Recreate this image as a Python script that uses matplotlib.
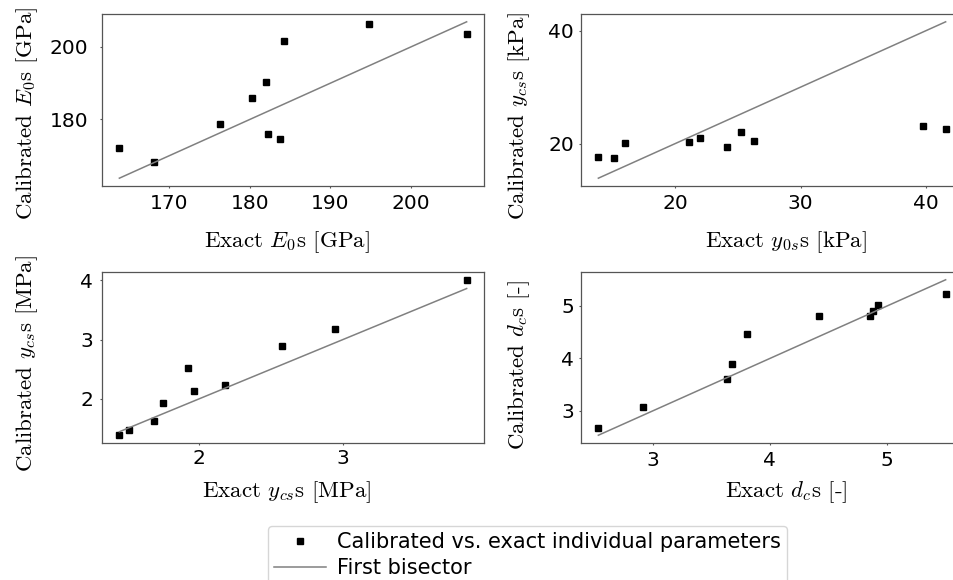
import numpy as np
import matplotlib
matplotlib.use("Agg")
import matplotlib.pyplot as plt

plt.rcParams['mathtext.fontset'] = 'cm'

# exact vs calibrated values
E0_exact = [163.8, 168.1, 176.3, 180.2, 182.0, 182.3, 183.7, 184.2, 194.8, 206.9]
E0_calib = [172.2, 168.3, 178.8, 186.0, 190.2, 176.0, 174.7, 201.5, 206.3, 203.5]

y0s_exact = [13.87, 15.12, 16.0, 21.09, 21.99, 24.14, 25.28, 26.29, 39.79, 41.57]
y0s_calib = [17.7, 17.46, 20.06, 20.24, 21.0, 19.47, 22.0, 20.47, 23.19, 22.54]

ycs_exact = [1.447, 1.512, 1.69, 1.748, 1.926, 1.965, 2.18, 2.581, 2.947, 3.863]
ycs_calib = [1.388, 1.472, 1.629, 1.933, 2.517, 2.129, 2.242, 2.888, 3.174, 4.011]

dc_exact = [2.538, 2.921, 3.633, 3.678, 3.803, 4.421, 4.853, 4.881, 4.921, 5.499]
dc_calib = [2.682, 3.076, 3.618, 3.898, 4.471, 4.803, 4.809, 4.904, 5.025, 5.229]

panels = [
    (E0_exact, E0_calib, r"Exact $E_0$s [GPa]", r"Calibrated $E_0$s [GPa]", [170, 180, 190, 200], [180, 200]),
    (y0s_exact, y0s_calib, r"Exact $y_{0s}$s [kPa]", r"Calibrated $y_{cs}$s [kPa]", [20, 30, 40], [20, 40]),
    (ycs_exact, ycs_calib, r"Exact $y_{cs}$s [MPa]", r"Calibrated $y_{cs}$s [MPa]", [2, 3], [2, 3, 4]),
    (dc_exact, dc_calib, r"Exact $d_c$s [-]", r"Calibrated $d_c$s [-]", [3, 4, 5], [3, 4, 5]),
]

W, H = 954, 580
fig = plt.figure(figsize=(W / 100, H / 100), dpi=100)
# (left, top, bottom) in pixels, tick pads, label coords
boxes = [(102, 14, 186), (581, 14, 186), (102, 272, 443), (581, 272, 443)]
xpads = [4, 4, 3, 4]
ypads = [8.5, 3.5, 5, 3.5]
ylab_xy = [(-0.162, 0.42), (-0.128, 0.41), (-0.162, 0.465), (-0.128, 0.455)]
xlab_xy = [(0.484, -0.25), (0.537, -0.25), (0.484, -0.21), (0.537, -0.21)]
ax_w = 382

for i, (xe, yc, xl, yl, xt, yt) in enumerate(panels):
    left, top, bot = boxes[i]
    ax = fig.add_axes([left / W, 1 - bot / H, ax_w / W, (bot - top) / H])
    ax.plot(xe, yc, 's', color='black', ms=4, label='Calibrated vs. exact individual parameters')
    lo, hi = min(xe), max(xe)
    ax.plot([lo, hi], [lo, hi], color='grey', lw=1.1, label='First bisector')
    ax.set_xticks(xt)
    ax.set_yticks(yt)
    for s in ax.spines.values():
        s.set_color('#555555')
        s.set_linewidth(0.9)
    ax.tick_params(labelsize=14.5, length=1.5, color='#555555')
    ax.tick_params(axis='x', pad=xpads[i])
    ax.tick_params(axis='y', pad=ypads[i])
    ax.set_xlabel(xl, fontsize=16.5, fontfamily='cmr10')
    ax.set_ylabel(yl, fontsize=16.5, fontfamily='cmr10')
    ax.xaxis.set_label_coords(*xlab_xy[i])
    ax.yaxis.set_label_coords(*ylab_xy[i])

handles, labels = ax.get_legend_handles_labels()
fig.legend(handles, labels, loc='upper left', bbox_to_anchor=(268 / W, 1 - 526 / H),
           fontsize=15, frameon=True, borderaxespad=0, handlelength=2.5,
           handletextpad=0.5, borderpad=0.3, labelspacing=0.3)

fig.savefig('out.png', dpi=100)
